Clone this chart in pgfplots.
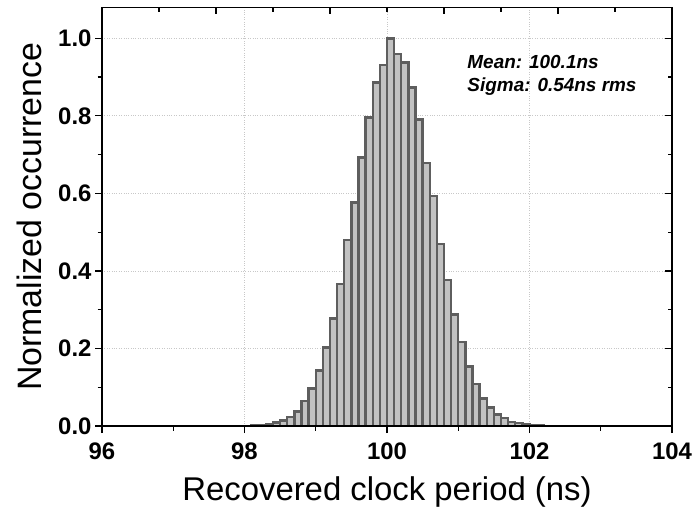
\documentclass[border=0pt]{standalone}
\usepackage{pgfplots}
\pgfplotsset{compat=1.18}
\usepackage{fontspec}
\setmainfont{Liberation Sans}
\definecolor{barfill}{HTML}{C2C2C2}
\definecolor{baredge}{HTML}{5E5E5E}
\definecolor{gridc}{HTML}{C8C8C8}
\pgfplotstableread{
x y
98.15 0.001
98.25 0.002
98.35 0.004
98.45 0.009
98.55 0.014
98.65 0.024
98.75 0.037
98.85 0.065
98.95 0.097
99.05 0.143
99.15 0.203
99.25 0.277
99.35 0.366
99.45 0.480
99.55 0.576
99.65 0.693
99.75 0.796
99.85 0.886
99.95 0.931
100.05 1.000
100.15 0.959
100.25 0.938
100.35 0.873
100.45 0.791
100.55 0.679
100.65 0.594
100.75 0.469
100.85 0.377
100.95 0.288
101.05 0.216
101.15 0.153
101.25 0.108
101.35 0.071
101.45 0.048
101.55 0.030
101.65 0.020
101.75 0.011
101.85 0.007
101.95 0.004
102.05 0.002
102.15 0.001
}\histdata
\begin{document}
\begin{tikzpicture}
\begin{axis}[
  name=ax,
  width=570bp, height=418.7bp, scale only axis,
  xmin=96, xmax=104, ymin=0, ymax=1.08,
  axis line style={line width=1.3bp},
  xtick={96,98,100,102,104},
  minor xtick={97,99,101,103},
  ytick={0,0.2,0.4,0.6,0.8,1.0},
  minor ytick={0.1,0.3,0.5,0.7,0.9},
  xtick pos=left, ytick pos=left,
  tick align=outside,
  major tick length=7bp, minor tick length=4.5bp,
  every tick/.style={black, line width=1.2bp},
  yticklabel style={/pgf/number format/.cd, fixed, fixed zerofill, precision=1},
  /pgf/number format/assume math mode=true,
  ticklabel style={font=\bfseries\fontsize{24}{24}\selectfont},
  xticklabel style={yshift=-6bp},
  xlabel={Recovered clock period (ns)},
  ylabel={Normalized occurrence},
  xlabel style={font=\fontsize{33}{33}\selectfont, yshift=-10bp},
  ylabel style={font=\fontsize{34}{34}\selectfont, yshift=10bp},
  xmajorgrids, ymajorgrids,
  major grid style={gridc, dotted, line width=0.8bp},
]
\addplot[ybar, bar width=0.1, bar shift=0pt, fill=barfill, draw=baredge, line width=2.4bp] table[x=x,y=y] {\histdata};
\node[anchor=base west, font=\bfseries\itshape\fontsize{19}{19}\selectfont] at (axis cs:101.08,0.922) {Mean: 100.1ns};
\node[anchor=base west, font=\bfseries\itshape\fontsize{19}{19}\selectfont] at (axis cs:101.08,0.864) {Sigma: 0.54ns rms};
\end{axis}
\begin{axis}[
  width=570bp, height=418.7bp, scale only axis,
  xmin=96, xmax=104, ymin=0, ymax=1.08,
  axis line style={line width=1.3bp},
  xtick={96,97.6,99.2,100.8,102.4,104},
  minor xtick={96.8,98.4,100,101.6,103.2},
  ytick={0,0.2,0.4,0.6,0.8,1.0},
  minor ytick={0.1,0.3,0.5,0.7,0.9},
  xtick pos=right, ytick pos=right,
  tick align=inside,
  major tick length=7bp, minor tick length=4.5bp,
  every tick/.style={black, line width=1.2bp},
  xticklabels={}, yticklabels={},
]
\end{axis}
\pgfresetboundingbox
\path[use as bounding box] ([xshift=-102bp,yshift=-88bp]ax.south west) rectangle ([xshift=25bp,yshift=7.3bp]ax.north east);
\end{tikzpicture}
\end{document}
